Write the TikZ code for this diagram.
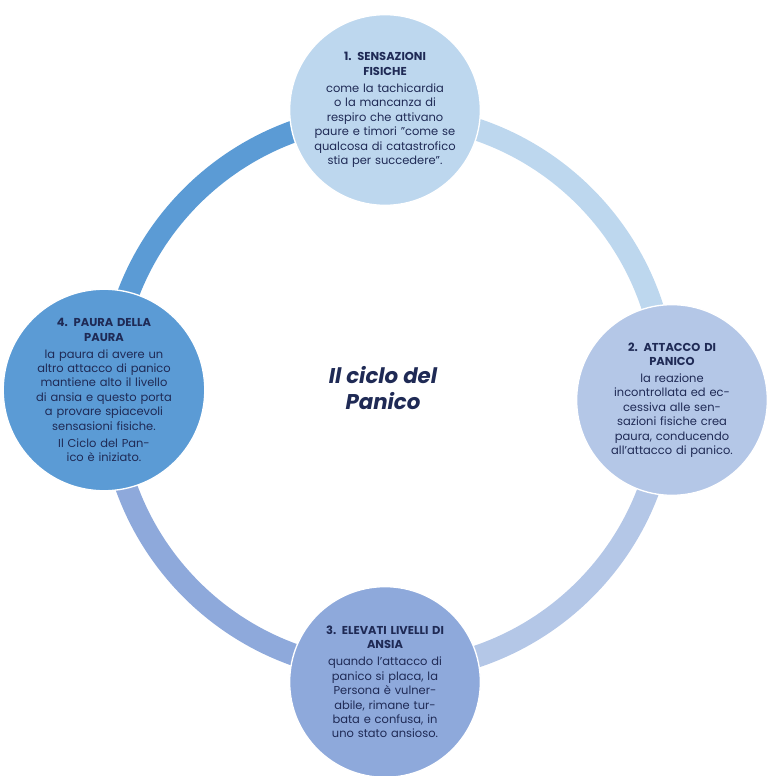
\documentclass[tikz,border=0pt]{standalone}
\usepackage{fontspec}
\setmainfont{Poppins}
\usetikzlibrary{positioning}
\definecolor{navy}{HTML}{1F2A55}
\definecolor{cuno}{HTML}{BDD7EE}
\definecolor{cdue}{HTML}{B4C7E7}
\definecolor{ctre}{HTML}{8EA9DB}
\definecolor{cquattro}{HTML}{5B9BD5}

\begin{document}
\begin{tikzpicture}[
			x=0.75pt, y=0.75pt,
			every node/.style={font=\fontsize{8.6}{10.8}\selectfont, text=navy},
			phase/.style={circle, draw=white, line width=1pt, minimum size=143pt, inner sep=0pt, align=center, text width=106pt},
			ring/.style={line width=16.5pt}
			]

			\useasboundingbox (0,0) rectangle (771,776);
			\coordinate (ctr) at (388,383);

			% ring arcs
			\draw[ring, cuno] (ctr) ++(0:278) arc[start angle=0, end angle=90, radius=278];
			\draw[ring, cquattro] (ctr) ++(90:278) arc[start angle=90, end angle=180, radius=278];
			\draw[ring, ctre] (ctr) ++(180:278) arc[start angle=180, end angle=270, radius=278];
			\draw[ring, cdue] (ctr) ++(270:278) arc[start angle=270, end angle=360, radius=278];

			\node[phase, fill=cuno] (sens) at (385,666) {{\bfseries 1. SENSAZIONI\\FISICHE}\\[2pt]
				come la tachicardia o la mancanza di respiro che attivano paure e timori "come se qualcosa di catastrofico stia per succedere".};
			\node[phase, fill=cdue] (attacco) at (672,376) {{\bfseries 2. ATTACCO DI\\PANICO}\\[2pt]
				la reazione\\incontrollata ed eccessiva alle sensazioni fisiche crea paura, conducendo all'attacco di panico.};
			\node[phase, fill=ctre] (ansia) at (385,94) {{\bfseries 3. ELEVATI LIVELLI DI\\ANSIA}\\[2pt]
				quando l'attacco di panico si placa, la Persona è vulnerabile, rimane turbata e confusa, in uno stato ansioso.};
			\node[phase, fill=cquattro] (paura) at (104,386) {{\bfseries 4. PAURA DELLA\\PAURA}\\[2pt]
				la paura di avere un altro attacco di panico mantiene alto il livello di ansia e questo porta a provare spiacevoli sensasioni fisiche.\\[2pt]
				Il Ciclo del Panico è iniziato.};

			\node[font=\fontsize{16}{20}\selectfont\bfseries\itshape, align=center] (ciclo) at (383,388) {Il ciclo del\\Panico};

		\end{tikzpicture}
\end{document}
